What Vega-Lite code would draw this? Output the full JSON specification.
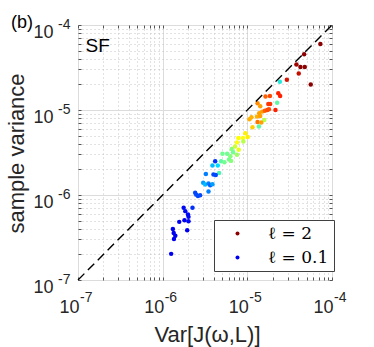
{
  "$schema": "https://vega.github.io/schema/vega-lite/v6.json",
  "width": 254,
  "height": 255,
  "autosize": {"type": "none"},
  "padding": {"left": 78, "top": 25, "right": 42, "bottom": 67},
  "background": "white",
  "config": {
    "view": {"stroke": "#777777", "strokeWidth": 1},
    "font": "Liberation Sans"
  },
  "title": {
    "text": "(b)",
    "anchor": "start",
    "frame": "group",
    "orient": "top",
    "offset": 0,
    "dx": -67,
    "dy": 29,
    "fontSize": 18,
    "fontWeight": "normal",
    "font": "Liberation Sans",
    "color": "black",
    "baseline": "alphabetic"
  },
  "resolve": {"axis": {"x": "independent", "y": "independent"}},
  "layer": [
    {
      "data": {
        "values": [
          {"x": 7.29e-5, "y": 5.97e-5, "l": 2.0},
          {"x": 4.69e-5, "y": 4.52e-5, "l": 2.0},
          {"x": 3.80e-5, "y": 3.44e-5, "l": 1.95},
          {"x": 4.24e-5, "y": 3.21e-5, "l": 2.0},
          {"x": 4.77e-5, "y": 3.21e-5, "l": 2.0},
          {"x": 4.05e-5, "y": 2.68e-5, "l": 1.85},
          {"x": 5.61e-5, "y": 2.00e-5, "l": 2.0},
          {"x": 2.93e-5, "y": 2.27e-5, "l": 1.8},
          {"x": 2.42e-5, "y": 2.15e-5, "l": 0.6},
          {"x": 1.64e-5, "y": 1.44e-5, "l": 1.55},
          {"x": 1.85e-5, "y": 1.46e-5, "l": 1.6},
          {"x": 2.32e-5, "y": 1.57e-5, "l": 1.7},
          {"x": 2.44e-5, "y": 1.46e-5, "l": 1.7},
          {"x": 2.25e-5, "y": 1.22e-5, "l": 0.75},
          {"x": 1.32e-5, "y": 1.20e-5, "l": 1.45},
          {"x": 1.42e-5, "y": 1.11e-5, "l": 1.4},
          {"x": 1.77e-5, "y": 1.18e-5, "l": 1.65},
          {"x": 1.86e-5, "y": 1.18e-5, "l": 1.65},
          {"x": 1.50e-5, "y": 9.57e-6, "l": 1.4},
          {"x": 1.61e-5, "y": 9.82e-6, "l": 1.55},
          {"x": 1.72e-5, "y": 1.00e-5, "l": 1.6},
          {"x": 1.80e-5, "y": 1.02e-5, "l": 1.6},
          {"x": 2.15e-5, "y": 1.00e-5, "l": 1.7},
          {"x": 1.38e-5, "y": 9.14e-6, "l": 1.4},
          {"x": 1.30e-5, "y": 8.36e-6, "l": 1.35},
          {"x": 1.42e-5, "y": 8.51e-6, "l": 1.4},
          {"x": 1.585e-5, "y": 7.64e-6, "l": 0.95},
          {"x": 1.06e-5, "y": 7.78e-6, "l": 1.35},
          {"x": 1.12e-5, "y": 8.21e-6, "l": 1.35},
          {"x": 1.32e-5, "y": 7.24e-6, "l": 1.5},
          {"x": 1.46e-5, "y": 7.11e-6, "l": 1.4},
          {"x": 1.37e-5, "y": 6.39e-6, "l": 0.75},
          {"x": 1.15e-5, "y": 6.28e-6, "l": 1.25},
          {"x": 9.47e-6, "y": 5.34e-6, "l": 1.15},
          {"x": 1.01e-5, "y": 4.80e-6, "l": 1.15},
          {"x": 8.89e-6, "y": 4.67e-6, "l": 1.1},
          {"x": 7.84e-6, "y": 4.67e-6, "l": 1.1},
          {"x": 7.55e-6, "y": 4.16e-6, "l": 1.1},
          {"x": 8.97e-6, "y": 4.27e-6, "l": 0.95},
          {"x": 7.16e-6, "y": 3.73e-6, "l": 1.0},
          {"x": 6.54e-6, "y": 3.47e-6, "l": 0.85},
          {"x": 7.91e-6, "y": 3.41e-6, "l": 1.05},
          {"x": 7.55e-6, "y": 2.98e-6, "l": 0.9},
          {"x": 6.78e-6, "y": 3.18e-6, "l": 0.8},
          {"x": 6.31e-6, "y": 2.85e-6, "l": 0.85},
          {"x": 5.77e-6, "y": 3.06e-6, "l": 0.8},
          {"x": 5.08e-6, "y": 3.06e-6, "l": 0.8},
          {"x": 6.08e-6, "y": 2.61e-6, "l": 0.8},
          {"x": 6.43e-6, "y": 2.52e-6, "l": 0.85},
          {"x": 4.90e-6, "y": 2.49e-6, "l": 0.75},
          {"x": 5.36e-6, "y": 2.43e-6, "l": 0.8},
          {"x": 4.17e-6, "y": 2.49e-6, "l": 0.2},
          {"x": 3.87e-6, "y": 2.22e-6, "l": 0.45},
          {"x": 4.48e-6, "y": 2.22e-6, "l": 0.5},
          {"x": 4.64e-6, "y": 1.82e-6, "l": 0.7},
          {"x": 3.98e-6, "y": 1.74e-6, "l": 0.25},
          {"x": 4.24e-6, "y": 1.72e-6, "l": 0.25},
          {"x": 3.24e-6, "y": 1.77e-6, "l": 0.35},
          {"x": 3.01e-6, "y": 1.39e-6, "l": 0.4},
          {"x": 3.18e-6, "y": 1.33e-6, "l": 0.45},
          {"x": 3.48e-6, "y": 1.37e-6, "l": 0.35},
          {"x": 3.64e-6, "y": 1.30e-6, "l": 0.3},
          {"x": 3.87e-6, "y": 1.34e-6, "l": 0.4},
          {"x": 3.48e-6, "y": 1.10e-6, "l": 0.35},
          {"x": 2.42e-6, "y": 1.06e-6, "l": 0.25},
          {"x": 2.61e-6, "y": 9.73e-7, "l": 0.25},
          {"x": 2.77e-6, "y": 9.91e-7, "l": 0.25},
          {"x": 2.49e-6, "y": 1.01e-6, "l": 0.25},
          {"x": 2.25e-6, "y": 7.08e-7, "l": 0.2},
          {"x": 1.77e-6, "y": 7.08e-7, "l": 0.12},
          {"x": 1.85e-6, "y": 6.46e-7, "l": 0.12},
          {"x": 1.99e-6, "y": 5.90e-7, "l": 0.12},
          {"x": 2.02e-6, "y": 5.53e-7, "l": 0.12},
          {"x": 1.81e-6, "y": 5.05e-7, "l": 0.1},
          {"x": 2.02e-6, "y": 4.92e-7, "l": 0.12},
          {"x": 1.57e-6, "y": 4.83e-7, "l": 0.1},
          {"x": 1.95e-6, "y": 3.85e-7, "l": 0.1},
          {"x": 1.32e-6, "y": 3.99e-7, "l": 0.1},
          {"x": 1.35e-6, "y": 3.57e-7, "l": 0.1},
          {"x": 1.41e-6, "y": 3.32e-7, "l": 0.1},
          {"x": 1.36e-6, "y": 3.04e-7, "l": 0.1},
          {"x": 1.26e-6, "y": 2.03e-7, "l": 0.1}
        ]
      },
      "mark": {"type": "circle", "size": 20, "opacity": 1},
      "encoding": {
        "x": {
          "field": "x",
          "type": "quantitative",
          "scale": {"type": "log", "domain": [1e-7, 1e-4], "nice": false},
          "axis": {
            "orient": "bottom",
            "values": [1e-7,2e-7,3e-7,4e-7,5e-7,6e-7,7e-7,8e-7,9e-7,1e-6,2e-6,3e-6,4e-6,5e-6,6e-6,7e-6,8e-6,9e-6,1e-5,2e-5,3e-5,4e-5,5e-5,6e-5,7e-5,8e-5,9e-5,1e-4],
            "labelExpr": "abs(log(datum.value)/LN10 - round(log(datum.value)/LN10)) < 0.001 ? '10' : ''",
            "labelAlign": "right",
            "labelBaseline": "alphabetic",
            "labelOffset": 1,
            "labelPadding": 35,
            "labelFontSize": 18,
            "labelFont": "Liberation Sans",
            "labelColor": "#262626",
            "labelFlush": false,
            "labelOverlap": false,
            "ticks": true,
            "tickSize": -3,
            "tickColor": "#555555",
            "domain": false,
            "grid": true,
            "gridColor": {"condition": {"test": "abs(log(datum.value)/LN10 - round(log(datum.value)/LN10)) < 0.001", "value": "#dcdcdc"}, "value": "#c4c4c4"},
            "gridDash": {"condition": {"test": "abs(log(datum.value)/LN10 - round(log(datum.value)/LN10)) < 0.001", "value": []}, "value": [1, 3]},
            "gridWidth": 1,
            "title": "Var[J(ω,L)]",
            "titleFont": "Liberation Sans",
            "titleFontSize": 22,
            "titleFontWeight": "normal",
            "titleColor": "#262626",
            "titleBaseline": "alphabetic",
            "titleAlign": "center",
            "titleX": 129,
            "titleY": 61
          }
        },
        "y": {
          "field": "y",
          "type": "quantitative",
          "scale": {"type": "log", "domain": [1e-7, 1e-4], "nice": false},
          "axis": {
            "orient": "left",
            "values": [1e-7,2e-7,3e-7,4e-7,5e-7,6e-7,7e-7,8e-7,9e-7,1e-6,2e-6,3e-6,4e-6,5e-6,6e-6,7e-6,8e-6,9e-6,1e-5,2e-5,3e-5,4e-5,5e-5,6e-5,7e-5,8e-5,9e-5,1e-4],
            "labelExpr": "abs(log(datum.value)/LN10 - round(log(datum.value)/LN10)) < 0.001 ? '10' : ''",
            "labelAlign": "right",
            "labelBaseline": "alphabetic",
            "labelOffset": 12.5,
            "labelPadding": 28,
            "labelFontSize": 18,
            "labelFont": "Liberation Sans",
            "labelColor": "#262626",
            "labelFlush": false,
            "labelOverlap": false,
            "ticks": true,
            "tickSize": -3,
            "tickColor": "#555555",
            "domain": false,
            "grid": true,
            "gridColor": {"condition": {"test": "abs(log(datum.value)/LN10 - round(log(datum.value)/LN10)) < 0.001", "value": "#dcdcdc"}, "value": "#c4c4c4"},
            "gridDash": {"condition": {"test": "abs(log(datum.value)/LN10 - round(log(datum.value)/LN10)) < 0.001", "value": []}, "value": [1, 3]},
            "gridWidth": 1,
            "title": "sample variance",
            "titleFont": "Liberation Sans",
            "titleFontSize": 22,
            "titleFontWeight": "normal",
            "titleColor": "#262626",
            "titleAngle": -90,
            "titleBaseline": "alphabetic",
            "titleAlign": "center",
            "titleX": -55,
            "titleY": 128
          }
        },
        "color": {
          "field": "l",
          "type": "quantitative",
          "scale": {
            "type": "linear",
            "domain": [0.1, 0.3, 0.5, 0.8, 1.1, 1.4, 1.7, 2.0],
            "range": ["#0000f0", "#0060ff", "#00dcff", "#70ff90", "#ffff00", "#ffa000", "#ff2000", "#8b0000"],
            "interpolate": "rgb"
          },
          "legend": {
            "type": "symbol",
            "values": [2, 0.1],
            "title": null,
            "orient": "none",
            "legendX": 136,
            "legendY": 195,
            "direction": "vertical",
            "padding": 5,
            "strokeColor": "#404040",
            "fillColor": "white",
            "cornerRadius": 0,
            "symbolType": "circle",
            "symbolSize": 16,
            "symbolStrokeWidth": 0,
            "symbolOffset": 10,
            "labelOffset": 22,
            "labelFont": "DejaVu Serif",
            "labelFontSize": 17,
            "labelColor": "black",
            "labelExpr": "'ℓ = ' + datum.value",
            "rowPadding": 6
          }
        }
      }
    },
    {
      "data": {"values": [{"x": 1e-7, "y": 1e-7}, {"x": 1e-4, "y": 1e-4}]},
      "mark": {"type": "line", "color": "black", "strokeDash": [9, 5], "strokeWidth": 1.4},
      "encoding": {
        "x": {
          "field": "x",
          "type": "quantitative",
          "scale": {"type": "log", "domain": [1e-7, 1e-4], "nice": false},
          "axis": {
            "orient": "bottom",
            "values": [1e-7, 1e-6, 1e-5, 1e-4],
            "labelExpr": "'' + round(log(datum.value)/LN10)",
            "labelAlign": "left",
            "labelBaseline": "alphabetic",
            "labelOffset": 1.5,
            "labelPadding": 21,
            "labelFontSize": 14,
            "labelFont": "Liberation Sans",
            "labelColor": "#262626",
            "labelFlush": false,
            "labelOverlap": false,
            "ticks": false,
            "domain": false,
            "grid": false,
            "title": null
          }
        },
        "y": {
          "field": "y",
          "type": "quantitative",
          "scale": {"type": "log", "domain": [1e-7, 1e-4], "nice": false},
          "axis": {
            "orient": "left",
            "values": [1e-7, 1e-6, 1e-5, 1e-4],
            "labelExpr": "'' + round(log(datum.value)/LN10)",
            "labelAlign": "right",
            "labelBaseline": "alphabetic",
            "labelOffset": 3,
            "labelPadding": 8,
            "labelFontSize": 14,
            "labelFont": "Liberation Sans",
            "labelColor": "#262626",
            "labelFlush": false,
            "labelOverlap": false,
            "ticks": false,
            "domain": false,
            "grid": false,
            "title": null
          }
        }
      }
    },
    {
      "data": {"values": [{"x": 1.23e-7, "y": 4.8e-5, "label": "SF"}]},
      "mark": {"type": "text", "align": "left", "baseline": "alphabetic", "fontSize": 19, "font": "Liberation Sans", "color": "black"},
      "encoding": {
        "x": {
          "field": "x",
          "type": "quantitative",
          "scale": {"type": "log", "domain": [1e-7, 1e-4], "nice": false},
          "axis": {
            "orient": "top",
            "values": [1e-7,2e-7,3e-7,4e-7,5e-7,6e-7,7e-7,8e-7,9e-7,1e-6,2e-6,3e-6,4e-6,5e-6,6e-6,7e-6,8e-6,9e-6,1e-5,2e-5,3e-5,4e-5,5e-5,6e-5,7e-5,8e-5,9e-5,1e-4],
            "labels": false,
            "ticks": true,
            "tickSize": -3,
            "tickColor": "#555555",
            "domain": false,
            "grid": false,
            "title": null
          }
        },
        "y": {
          "field": "y",
          "type": "quantitative",
          "scale": {"type": "log", "domain": [1e-7, 1e-4], "nice": false},
          "axis": {
            "orient": "right",
            "values": [1e-7,2e-7,3e-7,4e-7,5e-7,6e-7,7e-7,8e-7,9e-7,1e-6,2e-6,3e-6,4e-6,5e-6,6e-6,7e-6,8e-6,9e-6,1e-5,2e-5,3e-5,4e-5,5e-5,6e-5,7e-5,8e-5,9e-5,1e-4],
            "labels": false,
            "ticks": true,
            "tickSize": -3,
            "tickColor": "#555555",
            "domain": false,
            "grid": false,
            "title": null
          }
        },
        "text": {"field": "label"}
      }
    }
  ]
}
